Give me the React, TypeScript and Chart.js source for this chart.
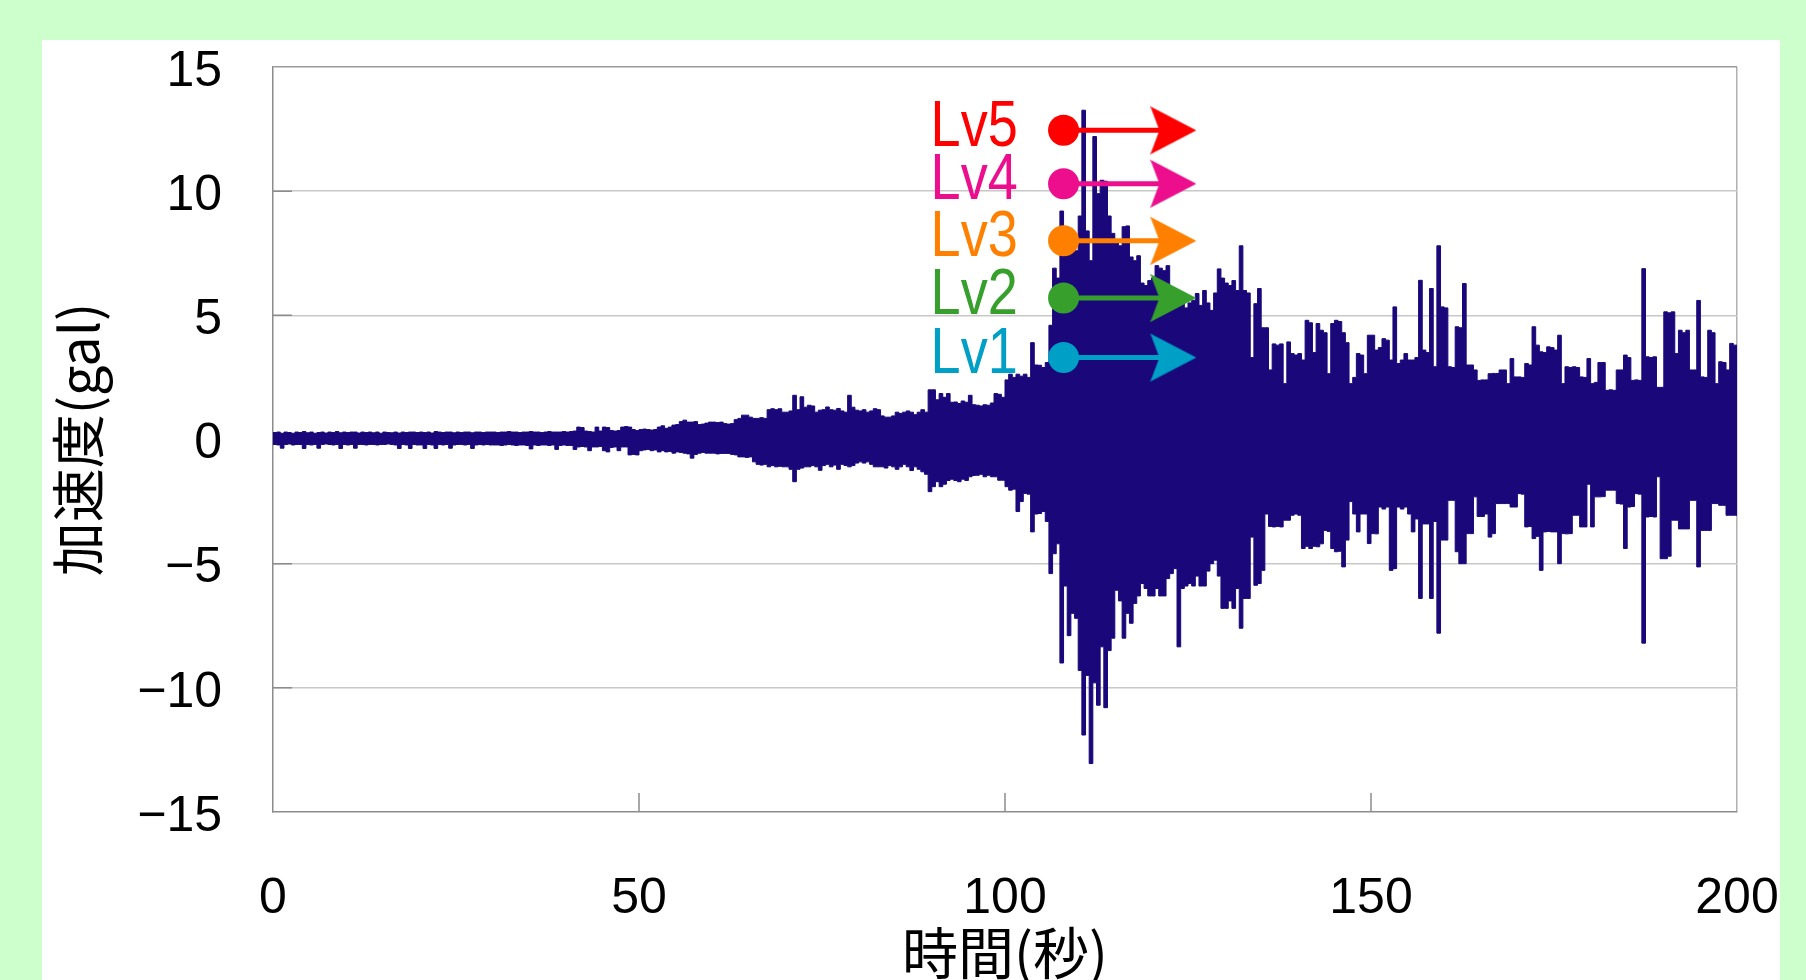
import React, { useEffect, useRef } from 'react';
import { Chart, registerables } from 'chart.js';

Chart.register(...registerables);

// ---- data -------------------------------------------------------------
const TIME_STEP = 0.5; // seconds per sample bin
const X_TICKS = [0, 50, 100, 150, 200];
const Y_TICKS = [-15, -10, -5, 0, 5, 10, 15];

// upper peak of each 0.5 s bin (gal)
const HI = [
  0.28,0.3,0.25,0.3,0.28,0.25,0.3,0.28,0.32,0.27,0.3,0.25,0.28,0.3,0.26,0.3,0.28,0.32,0.27,0.3,
  0.28,0.3,0.3,0.26,0.3,0.28,0.3,0.27,0.3,0.25,0.3,0.28,0.27,0.3,0.26,0.3,0.28,0.3,0.3,0.28,
  0.3,0.28,0.3,0.26,0.32,0.3,0.28,0.3,0.3,0.27,0.3,0.28,0.3,0.3,0.27,0.3,0.3,0.28,0.3,0.3,
  0.3,0.28,0.3,0.3,0.32,0.3,0.3,0.28,0.3,0.3,0.32,0.3,0.3,0.28,0.3,0.32,0.3,0.3,0.3,0.32,
  0.3,0.32,0.34,0.5,0.48,0.34,0.32,0.3,0.5,0.34,0.5,0.48,0.36,0.34,0.36,0.5,0.52,0.5,0.4,0.36,
  0.4,0.42,0.4,0.38,0.4,0.5,0.55,0.45,0.5,0.58,0.6,0.72,0.78,0.7,0.7,0.72,0.6,0.62,0.66,0.7,
  0.7,0.68,0.7,0.64,0.62,0.64,0.8,0.85,0.98,0.98,0.9,0.85,0.85,0.88,0.85,1.2,1.24,1.2,1.24,1.1,
  1.1,1.15,1.78,1.2,1.72,1.3,1.38,1.35,1.1,1.18,1.2,1.31,1.2,1.18,1.25,1.15,1.1,1.78,1.3,1.18,
  1.15,1.2,1.1,1.15,1.24,1.2,0.95,0.9,0.9,0.95,1.1,1.05,1.1,1.15,1.1,1.0,1.1,1.2,1.1,2.0,
  2.0,1.6,1.85,1.7,1.85,1.5,1.51,1.45,1.55,1.5,1.78,1.4,1.38,1.35,1.4,1.38,1.47,1.85,1.82,1.7,
  2.4,2.63,2.5,2.63,2.55,2.63,2.5,3.9,3.0,2.99,2.9,3.1,4.6,6.9,6.5,9.2,8.0,7.8,8.0,7.6,
  9.0,13.26,8.4,7.2,12.2,9.9,10.44,10.4,9.0,8.3,8.0,7.8,8.57,8.6,7.35,7.2,7.4,6.3,6.2,6.4,
  6.5,7.0,6.9,6.8,7.0,5.8,5.5,5.4,5.6,5.3,5.5,5.6,5.88,5.4,6.0,5.5,5.2,5.9,6.87,6.5,
  6.3,6.2,6.4,6.0,7.8,6.0,5.9,3.3,5.47,6.08,4.5,4.5,2.8,3.85,3.8,3.85,2.25,3.93,3.46,3.4,
  3.46,3.2,4.8,4.7,3.5,4.67,4.4,4.3,2.65,4.67,4.8,4.75,4.3,3.9,2.25,2.5,3.46,3.4,2.65,4.2,
  4.2,3.6,3.7,4.06,4.0,3.2,5.34,3.06,3.2,3.46,3.2,3.2,3.3,6.41,3.6,3.5,6.08,2.93,7.8,5.34,
  5.3,2.93,2.9,4.54,4.5,6.28,3.0,3.0,2.8,2.38,2.4,2.4,2.65,2.66,2.66,2.8,2.8,2.25,3.26,2.52,
  2.52,2.5,3.06,3.0,4.54,3.8,3.53,3.5,3.73,3.7,3.6,4.2,2.25,2.93,2.9,2.93,2.9,2.52,2.5,3.26,
  2.25,2.3,3.1,3.1,1.98,2.0,1.98,2.8,2.8,3.4,3.3,2.38,2.4,2.38,6.88,3.33,3.3,3.33,2.1,2.1,
  5.14,5.1,5.14,3.46,4.4,4.3,4.4,2.8,2.8,5.6,2.52,2.5,4.4,4.3,2.25,3.13,3.1,2.8,3.87,3.8,
];

// lower peak of each 0.5 s bin (gal)
const LO = [
  -0.2,-0.22,-0.35,-0.2,-0.18,-0.22,-0.2,-0.2,-0.36,-0.2,-0.22,-0.2,-0.35,-0.2,-0.18,-0.2,-0.22,-0.2,-0.36,-0.2,
  -0.22,-0.2,-0.35,-0.2,-0.2,-0.22,-0.2,-0.2,-0.22,-0.2,-0.2,-0.18,-0.2,-0.22,-0.36,-0.2,-0.22,-0.36,-0.2,-0.22,
  -0.22,-0.36,-0.2,-0.22,-0.36,-0.2,-0.22,-0.2,-0.35,-0.22,-0.2,-0.2,-0.22,-0.2,-0.36,-0.22,-0.2,-0.22,-0.2,-0.22,
  -0.22,-0.22,-0.24,-0.22,-0.2,-0.22,-0.24,-0.22,-0.22,-0.24,-0.38,-0.22,-0.24,-0.22,-0.22,-0.24,-0.22,-0.4,-0.24,-0.22,
  -0.24,-0.24,-0.4,-0.3,-0.28,-0.3,-0.45,-0.3,-0.3,-0.28,-0.45,-0.5,-0.32,-0.3,-0.45,-0.3,-0.3,-0.62,-0.6,-0.62,
  -0.45,-0.42,-0.4,-0.45,-0.42,-0.5,-0.45,-0.5,-0.48,-0.55,-0.5,-0.52,-0.55,-0.58,-0.75,-0.6,-0.55,-0.52,-0.55,-0.55,
  -0.55,-0.58,-0.56,-0.56,-0.56,-0.6,-0.62,-0.7,-0.7,-0.72,-0.7,-0.9,-1.0,-1.03,-1.0,-1.1,-1.05,-1.1,-1.08,-1.1,
  -1.1,-1.2,-1.7,-1.2,-1.15,-1.1,-1.1,-1.05,-1.1,-1.24,-1.05,-1.0,-1.1,-1.03,-1.2,-1.0,-1.05,-1.1,-1.05,-0.95,
  -0.9,-0.95,-0.9,-1.0,-1.1,-1.1,-1.1,-1.15,-1.05,-1.1,-1.2,-1.1,-1.0,-1.1,-1.25,-1.1,-1.2,-1.3,-1.4,-2.1,
  -1.9,-1.7,-1.9,-1.8,-1.65,-1.6,-1.65,-1.7,-1.6,-1.65,-1.5,-1.45,-1.44,-1.4,-1.5,-1.44,-1.5,-1.5,-1.64,-1.64,
  -1.9,-2.04,-2.0,-2.9,-2.5,-2.17,-2.2,-3.72,-3.0,-2.98,-2.9,-3.3,-5.4,-4.6,-4.2,-9.0,-5.9,-7.9,-7.0,-7.2,
  -9.3,-11.9,-9.5,-13.05,-9.8,-10.7,-8.35,-10.8,-8.5,-8.0,-6.07,-6.5,-8.0,-7.0,-7.4,-6.6,-6.3,-5.8,-6.0,-6.3,
  -6.3,-6.0,-6.3,-6.3,-5.6,-5.4,-5.2,-8.35,-6.0,-5.9,-5.8,-5.9,-5.5,-5.9,-5.9,-5.3,-5.0,-4.86,-5.5,-6.8,
  -6.8,-6.5,-6.8,-6.0,-7.6,-6.4,-6.4,-3.93,-5.87,-5.8,-5.27,-3.0,-3.5,-3.52,-3.5,-3.52,-3.25,-3.25,-3.05,-3.0,
  -3.05,-4.39,-4.3,-4.39,-4.3,-4.32,-4.2,-3.66,-3.7,-4.39,-4.52,-4.5,-5.13,-4.05,-2.5,-3.0,-3.72,-3.0,-3.0,-4.19,
  -3.79,-3.8,-2.72,-2.8,-2.72,-5.27,-5.2,-2.72,-2.8,-2.72,-3.0,-3.72,-3.2,-6.4,-3.4,-3.4,-6.4,-3.3,-7.8,-4.05,
  -4.05,-2.45,-2.45,-4.52,-5.0,-5.0,-3.79,-3.79,-2.31,-3.1,-3.1,-3.0,-3.93,-3.79,-2.58,-2.58,-2.58,-2.58,-2.72,-2.72,
  -2.18,-2.2,-3.52,-3.5,-3.99,-3.9,-5.27,-3.72,-3.7,-3.72,-3.72,-5.0,-3.79,-3.8,-3.79,-3.05,-3.05,-3.52,-3.52,-1.8,
  -3.52,-2.31,-2.31,-2.3,-2.04,-2.04,-2.04,-2.58,-2.6,-4.39,-2.72,-2.7,-2.18,-2.2,-8.2,-3.12,-3.1,-3.12,-1.5,-4.8,
  -4.8,-4.7,-3.25,-3.25,-3.6,-3.6,-3.6,-2.45,-2.45,-5.13,-3.66,-3.66,-3.66,-2.58,-2.58,-2.65,-2.65,-3.05,-3.05,-3.05,
];

const LEVEL_LABELS = ['Lv1', 'Lv2', 'Lv3', 'Lv4', 'Lv5'];
const LEVEL_VALUES = [3.3, 5.7, 8.0, 10.3, 12.45];
const LEVEL_COLORS = ['#00a0c6', '#37a02d', '#ff8000', '#ec0e8c', '#ff0000'];
const LEVEL_START = 108; // s
const LEVEL_END = 123; // s (arrowhead centre)

const X_TITLE = '時間(秒)';
const Y_TITLE = '加速度(gal)';

const WAVE_COLOR = '#1a077a';
const TICK_FONT = { family: '"Liberation Sans", Arial, sans-serif', size: 50 };
const TITLE_FONT = { family: '"Noto Sans CJK JP", sans-serif', size: 54, lineHeight: 1 };
const X_TITLE_FONT = { family: '"Noto Sans CJK JP", sans-serif', size: 56, lineHeight: 1 };

function fmtTick(v: number): string {
  return v < 0 ? '\u2212' + Math.abs(v) : String(v);
}

function makeArrow(color: string): HTMLCanvasElement {
  const c = document.createElement('canvas');
  c.width = 46;
  c.height = 50;
  const g = c.getContext('2d')!;
  g.fillStyle = color;
  g.beginPath();
  g.moveTo(46, 25);
  g.lineTo(0, 1);
  g.lineTo(9, 25);
  g.lineTo(0, 49);
  g.closePath();
  g.fill();
  return c;
}

function zeroPadding(s: any) {
  s.paddingTop = 0;
  s.paddingBottom = 0;
  s.paddingLeft = 0;
  s.paddingRight = 0;
}

const innerTicksPlugin = {
  id: 'innerTicks',
  beforeDatasetsDraw(chart: any) {
    const { ctx, chartArea: a, scales } = chart;
    const x = scales.x;
    const y = scales.y;
    ctx.save();
    ctx.strokeStyle = '#8c8c8c';
    ctx.lineWidth = 1.5;
    ctx.beginPath();
    y.ticks.forEach((t: any) => {
      if (t.value > y.min && t.value < y.max) {
        const py = y.getPixelForValue(t.value);
        ctx.moveTo(a.left, py);
        ctx.lineTo(a.left + 19, py);
      }
    });
    x.ticks.forEach((t: any) => {
      if (t.value > x.min && t.value < x.max) {
        const px = x.getPixelForValue(t.value);
        ctx.moveTo(px, a.bottom);
        ctx.lineTo(px, a.bottom - 19);
      }
    });
    ctx.stroke();
    ctx.restore();
  },
};

const levelLabelPlugin = {
  id: 'levelLabels',
  afterDatasetsDraw(chart: any) {
    const { ctx, scales } = chart;
    const x = scales.x;
    const y = scales.y;
    ctx.save();
    ctx.font = '64px "Liberation Sans", Arial, sans-serif';
    ctx.textAlign = 'left';
    ctx.textBaseline = 'middle';
    LEVEL_LABELS.forEach((label, i) => {
      const px = x.getPixelForValue(LEVEL_START) - 133;
      const py = y.getPixelForValue(LEVEL_VALUES[i]) - 2;
      ctx.save();
      ctx.translate(px, py);
      ctx.scale(0.845, 1);
      ctx.fillStyle = LEVEL_COLORS[i];
      ctx.fillText(label, 0, 0);
      ctx.restore();
    });
    ctx.restore();
  },
};

export default function App() {
  const ref = useRef<HTMLCanvasElement>(null);

  useEffect(() => {
    if (!ref.current) return;
    const hiPts = HI.map((v, i) => ({ x: i * TIME_STEP, y: v }));
    hiPts.push({ x: HI.length * TIME_STEP, y: HI[HI.length - 1] });
    const loPts = LO.map((v, i) => ({ x: i * TIME_STEP, y: v }));
    loPts.push({ x: LO.length * TIME_STEP, y: LO[LO.length - 1] });

    const arrows = LEVEL_COLORS.map((c) => makeArrow(c));

    const levelSets = LEVEL_VALUES.map((v, i) => ({
      label: LEVEL_LABELS[i],
      data: [
        { x: LEVEL_START, y: v },
        { x: LEVEL_END, y: v },
      ],
      borderColor: LEVEL_COLORS[i],
      backgroundColor: LEVEL_COLORS[i],
      borderWidth: 5,
      pointStyle: ['circle', arrows[i]] as any,
      pointRadius: [15.5, 23],
      pointBackgroundColor: LEVEL_COLORS[i],
      pointBorderColor: LEVEL_COLORS[i],
      pointBorderWidth: 0,
      fill: false,
      order: 0,
    }));

    const chart = new Chart(ref.current, {
      type: 'line',
      data: {
        datasets: [
          {
            label: 'max',
            data: hiPts,
            borderColor: WAVE_COLOR,
            backgroundColor: WAVE_COLOR,
            borderWidth: 1,
            pointRadius: 0,
            stepped: true,
            fill: '+1',
            order: 5,
          },
          {
            label: 'min',
            data: loPts,
            borderColor: WAVE_COLOR,
            backgroundColor: WAVE_COLOR,
            borderWidth: 1,
            pointRadius: 0,
            stepped: true,
            fill: false,
            order: 5,
          },
          ...levelSets,
        ] as any,
      },
      options: {
        responsive: false,
        animation: false,
        devicePixelRatio: 1,
        events: [],
        layout: { autoPadding: false, padding: { top: 27, right: 43, bottom: 0, left: 0 } },
        plugins: {
          legend: { display: false },
          tooltip: { enabled: false },
        },
        scales: {
          x: {
            type: 'linear',
            min: X_TICKS[0],
            max: X_TICKS[X_TICKS.length - 1],
            afterBuildTicks: (s: any) => {
              s.ticks = X_TICKS.map((v) => ({ value: v }));
            },
            afterFit: (s: any) => {
              s.height = 168;
              zeroPadding(s);
            },
            ticks: {
              callback: (v: any) => fmtTick(Number(v)),
              font: TICK_FONT,
              color: '#000',
              padding: 57,
              maxRotation: 0,
              autoSkip: false,
            },
            grid: {
              drawTicks: false,
              lineWidth: 1.5,
              color: (c: any) => (c.tick && c.tick.value === 200 ? '#b0b0b0' : 'rgba(0,0,0,0)'),
            },
            border: { display: true, color: '#8c8c8c', width: 1.5 },
            title: {
              display: true,
              text: X_TITLE,
              font: X_TITLE_FONT,
              color: '#000',
              padding: { top: 0, bottom: -1 },
            },
          },
          y: {
            type: 'linear',
            min: Y_TICKS[0],
            max: Y_TICKS[Y_TICKS.length - 1],
            afterBuildTicks: (s: any) => {
              s.ticks = Y_TICKS.map((v) => ({ value: v }));
            },
            afterFit: (s: any) => {
              s.width = 231;
              zeroPadding(s);
            },
            ticks: {
              callback: (v: any) => fmtTick(Number(v)),
              font: TICK_FONT,
              color: '#000',
              padding: 51,
              labelOffset: 5,
              autoSkip: false,
            },
            grid: {
              drawTicks: false,
              lineWidth: 1.5,
              color: (c: any) => {
                const v = c.tick ? c.tick.value : 0;
                if (v === 15) return '#9a9a9a';
                if (v === -15) return 'rgba(0,0,0,0)';
                return '#c8c8c8';
              },
            },
            border: { display: true, color: '#8c8c8c', width: 1.5 },
            title: {
              display: true,
              text: Y_TITLE,
              font: TITLE_FONT,
              color: '#000',
              padding: { top: 9, bottom: 0 },
            },
          },
        },
      } as any,
      plugins: [innerTicksPlugin, levelLabelPlugin],
    });

    return () => {
      chart.destroy();
    };
  }, []);

  return (
    <div
      style={{
        position: 'fixed',
        left: 0,
        top: 0,
        width: 1806,
        height: 980,
        background: '#ccffcc',
        overflow: 'hidden',
      }}
    >
      <div
        style={{
          position: 'absolute',
          left: 42,
          top: 40,
          width: 1738,
          height: 940,
          background: '#ffffff',
        }}
      >
        <canvas
          ref={ref}
          width={1738}
          height={940}
          style={{ display: 'block', width: 1738, height: 940 }}
        />
      </div>
    </div>
  );
}
